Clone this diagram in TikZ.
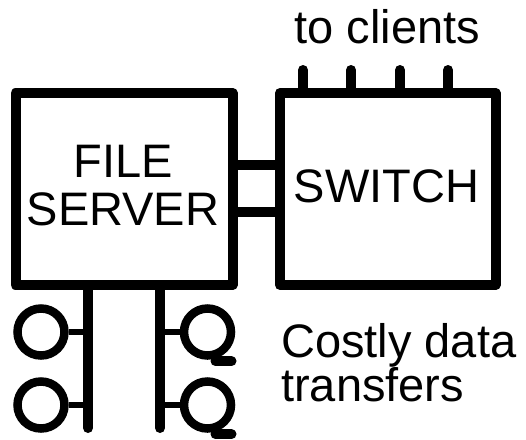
\documentclass[tikz,border=0pt]{standalone}
\usepackage{fontspec}
\setmainfont{Liberation Sans}
\begin{document}
\begin{tikzpicture}[x=1pt,y=-1pt,
  box/.style={draw, line width=10pt, line join=round, inner sep=0pt, minimum height=192pt},
  lbl/.style={font=\fontsize{47}{44}\selectfont, inner sep=0pt, anchor=base},
  disk/.style={circle, draw, line width=8.5pt, minimum size=47pt, inner sep=0pt},
  wire/.style={line width=10pt, line cap=round},
  stub/.style={line width=5.5pt}]
\useasboundingbox (0,0) rectangle (526,439);
% boxes
\node[box, minimum width=217pt] (fs) at (124,189) {};
\node[box, minimum width=215.5pt] (sw) at (387.75,189) {};
% labels
\node[lbl] (file) at (123,177) {FILE};
\node[lbl] (server) at (123,225) {SERVER};
\node[lbl] (switch) at (386.5,202) {SWITCH};
\node[lbl] (clients) at (387.5,43) {to clients};
\node[lbl, anchor=base west] (costly) at (281,357) {Costly data};
\node[lbl, anchor=base west] (transfers) at (281,401) {transfers};
% server-switch links
\draw[line width=10pt] ([yshift=24pt]fs.east) -- ([yshift=24pt]sw.west);
\draw[line width=10pt] ([yshift=-23pt]fs.east) -- ([yshift=-23pt]sw.west);
% client ticks
\coordinate (t1) at (303,70);
\coordinate (t2) at (351,70);
\coordinate (t3) at (400,70);
\coordinate (t4) at (448,70);
\foreach \t in {t1,t2,t3,t4} \draw[wire] (\t) -- (\t |- sw.north);
% buses
\coordinate (b1) at (88,428);
\coordinate (b2) at (160,428);
\draw[wire] (fs.south -| b1) -- (b1);
\draw[wire] (fs.south -| b2) -- (b2);
% disks
\node[disk] (d1) at (41,332) {};
\node[disk] (d2) at (41,405) {};
\node[disk] (d3) at (207.5,332) {};
\node[disk] (d4) at (207.5,405) {};
\draw[stub] (d1.east) -- (d1.east -| b1);
\draw[stub] (d2.east) -- (d2.east -| b1);
\draw[stub] (d3.west) -- (d3.west -| b2);
\draw[stub] (d4.west) -- (d4.west -| b2);
\draw[wire] ([xshift=8pt,yshift=-1.5pt]d3.south) -- ([xshift=24pt,yshift=-1.5pt]d3.south);
\draw[wire] ([xshift=8pt,yshift=-1.5pt]d4.south) -- ([xshift=24pt,yshift=-1.5pt]d4.south);
\end{tikzpicture}
\end{document}
